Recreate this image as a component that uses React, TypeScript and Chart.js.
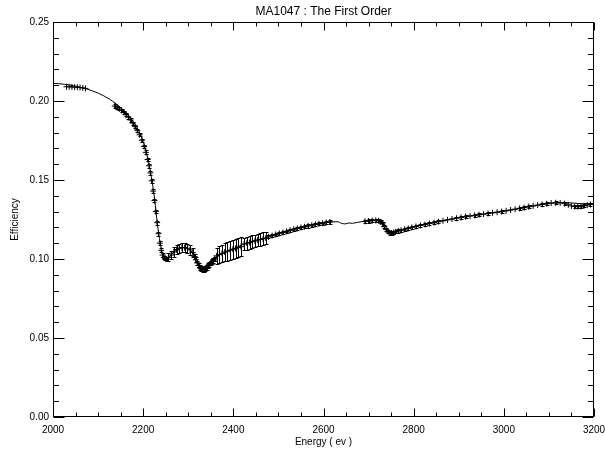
import React, { useEffect, useRef } from "react";
import { Chart, registerables } from "chart.js";

Chart.register(...registerables);

const chartTitle = "MA1047 : The First Order";
const xAxisLabel = "Energy ( ev )";
const yAxisLabel = "Efficiency";

const X_MIN = 2000;
const X_MAX = 3200;
const Y_MIN = 0;
const Y_MAX = 0.25;

const xTickValues = [2000, 2200, 2400, 2600, 2800, 3000, 3200];
const yTickValues = [0, 0.05, 0.1, 0.15, 0.2, 0.25];

// Fitted efficiency curve (solid line)
const modelEnergy = [
  2000, 2025, 2050, 2075, 2100, 2125, 2150, 2175, 2190, 2200, 2210, 2218, 2224,
  2230, 2236, 2242, 2248, 2254, 2262, 2272, 2284, 2296, 2306, 2314, 2322, 2330,
  2338, 2350, 2362, 2380, 2400, 2420, 2440, 2460, 2480, 2500, 2525, 2550, 2575,
  2600, 2618, 2630, 2640, 2648, 2656, 2664, 2675, 2690, 2710, 2722, 2730, 2738,
  2746, 2754, 2765, 2780, 2800, 2850, 2900, 2950, 3000, 3050, 3100, 3125, 3150,
  3175, 3200,
];
const modelEfficiency = [
  0.2112, 0.2106, 0.2094, 0.2076, 0.205, 0.2012, 0.1958, 0.188, 0.1812, 0.1745,
  0.164, 0.152, 0.141, 0.126, 0.113, 0.1045, 0.1008, 0.1005, 0.1025, 0.1055,
  0.1072, 0.107, 0.1052, 0.101, 0.0962, 0.0936, 0.0938, 0.0972, 0.101, 0.104,
  0.1064, 0.109, 0.111, 0.1125, 0.1142, 0.116, 0.1181, 0.1199, 0.1214, 0.1226,
  0.1235, 0.1236, 0.1226, 0.1222, 0.1228, 0.1226, 0.1232, 0.1238, 0.1243,
  0.1242, 0.1226, 0.119, 0.1166, 0.1165, 0.1176, 0.1188, 0.1203, 0.1233,
  0.1261, 0.1282, 0.1303, 0.1328, 0.1352, 0.1357, 0.1355, 0.135, 0.135,
];

// Measured efficiencies with their uncertainties
const measEnergy = [
  2030, 2036, 2042, 2048, 2054, 2060, 2066, 2072,
  2137, 2142, 2147, 2152, 2157, 2162, 2167, 2172, 2177, 2182, 2187, 2192, 2197,
  2202, 2206, 2210, 2213, 2216, 2219, 2222, 2225, 2228, 2231, 2234, 2237, 2240,
  2243, 2246, 2249, 2252,
  2256, 2262, 2268, 2274, 2280, 2286, 2292, 2298, 2304, 2310,
  2314, 2317, 2320, 2323, 2326, 2329, 2332, 2335, 2338, 2341, 2344, 2347, 2350,
  2353, 2356, 2359,
  2363, 2369, 2375, 2381, 2387, 2393, 2399, 2405, 2411, 2417,
  2424, 2430, 2436, 2442, 2448, 2454, 2460, 2466, 2472,
  2478, 2486, 2494, 2502, 2510, 2518, 2526, 2534, 2542, 2550, 2558, 2566, 2574,
  2582, 2590, 2598, 2606, 2614,
  2692, 2700, 2708, 2716, 2722, 2727, 2731, 2735, 2739, 2743, 2747, 2751, 2755,
  2760, 2766, 2772, 2780, 2788, 2796,
  2805, 2815, 2825, 2835, 2845, 2855, 2865, 2875, 2885, 2895, 2905, 2915, 2925,
  2935, 2945, 2955, 2965, 2975, 2985, 2995, 3005, 3015, 3025, 3035, 3045, 3055,
  3065, 3075, 3085, 3095, 3105, 3115, 3125, 3135, 3143, 3150, 3157, 3164, 3171,
  3178, 3185, 3192, 3199,
];
const measEfficiency = [
  0.209, 0.209, 0.2089, 0.2088, 0.2087, 0.2085, 0.2083, 0.208,
  0.1968, 0.196, 0.195, 0.194, 0.1928, 0.1914, 0.1898, 0.188, 0.186, 0.1838,
  0.1814, 0.1786, 0.1752, 0.1712, 0.1675, 0.163, 0.159, 0.1545, 0.1495, 0.143,
  0.137, 0.13, 0.123, 0.116, 0.11, 0.1055, 0.1025, 0.101, 0.1003, 0.1,
  0.101, 0.1025, 0.1045, 0.106, 0.1068, 0.1072, 0.1072, 0.1068, 0.1058, 0.104,
  0.1015, 0.0995, 0.0975, 0.0958, 0.0946, 0.0938, 0.0934, 0.0935, 0.094, 0.0948,
  0.0957, 0.0966, 0.0975, 0.0984, 0.0992, 0.1,
  0.102, 0.1028, 0.1036, 0.1044, 0.105, 0.1056, 0.1062, 0.1067, 0.1072, 0.1078,
  0.1095, 0.11, 0.1105, 0.111, 0.1115, 0.112, 0.1124, 0.1128, 0.1132,
  0.114, 0.1148, 0.1155, 0.1162, 0.1168, 0.1175, 0.1182, 0.1188, 0.1194, 0.1199,
  0.1204, 0.1209, 0.1214, 0.1219, 0.1223, 0.1227, 0.1231, 0.1234,
  0.1238, 0.1241, 0.1243, 0.1244, 0.1242, 0.1235, 0.1222, 0.1205, 0.1186,
  0.1172, 0.1165, 0.1164, 0.1167, 0.1172, 0.1177, 0.1182, 0.1188, 0.1194, 0.12,
  0.1206, 0.1212, 0.1218, 0.1224, 0.123, 0.1236, 0.1242, 0.1248, 0.1253, 0.1258,
  0.1263, 0.1268, 0.1272, 0.1276, 0.128, 0.1284, 0.1288, 0.1292, 0.1296, 0.13,
  0.1305, 0.131, 0.1315, 0.132, 0.1325, 0.1331, 0.1336, 0.1341, 0.1346, 0.135,
  0.1354, 0.1356, 0.1355, 0.135, 0.1343, 0.1336, 0.1332, 0.1331, 0.1333,
  0.1337, 0.1341, 0.1345, 0.1348,
];
const measError = [
  0.0005, 0.0005, 0.0005, 0.0005, 0.0005, 0.0005, 0.0005, 0.0005,
  0.001, 0.001, 0.001, 0.001, 0.001, 0.001, 0.001, 0.001, 0.001, 0.001, 0.001,
  0.001, 0.001, 0.0012, 0.0012, 0.0012, 0.0012, 0.0012, 0.0012, 0.0012, 0.0012,
  0.0012, 0.0012, 0.0012, 0.0012, 0.0012, 0.0012, 0.0012, 0.0012, 0.0012,
  0.0025, 0.0028, 0.003, 0.003, 0.003, 0.003, 0.003, 0.003, 0.003, 0.003,
  0.0015, 0.0015, 0.0015, 0.0015, 0.0015, 0.0015, 0.0015, 0.0015, 0.0015,
  0.0015, 0.0015, 0.0015, 0.0015, 0.0015, 0.0015, 0.0015,
  0.005, 0.0052, 0.0055, 0.0057, 0.006, 0.006, 0.006, 0.006, 0.006, 0.006,
  0.004, 0.004, 0.004, 0.004, 0.004, 0.004, 0.004, 0.004, 0.004,
  0.001, 0.001, 0.001, 0.001, 0.001, 0.001, 0.001, 0.001, 0.001, 0.001, 0.001,
  0.001, 0.001, 0.001, 0.001, 0.001, 0.001, 0.001,
  0.001, 0.001, 0.001, 0.001, 0.001, 0.001, 0.001, 0.001, 0.001, 0.001, 0.001,
  0.001, 0.001, 0.001, 0.001, 0.001, 0.001, 0.001, 0.001,
  0.0008, 0.0008, 0.0008, 0.0008, 0.0008, 0.0008, 0.0008, 0.0008, 0.0008,
  0.0008, 0.0008, 0.0008, 0.0008, 0.0008, 0.0008, 0.0008, 0.0008, 0.0008,
  0.0008, 0.0008, 0.0008, 0.0008, 0.0008, 0.0008, 0.0008, 0.0008, 0.0008,
  0.0008, 0.0008, 0.0008, 0.0008, 0.0008, 0.0008, 0.0008, 0.0008, 0.0008,
  0.0008, 0.0008, 0.0008, 0.0008, 0.0008, 0.0008, 0.0008,
];

const FONT = "'Liberation Sans', Arial, sans-serif";

// Vertical error bars with short caps for the measured points
const errorBarPlugin = {
  id: "errorBars",
  afterDatasetsDraw(chart: any) {
    const { ctx, scales } = chart;
    const xs = scales.x;
    const ys = scales.y;
    ctx.save();
    ctx.strokeStyle = "#000";
    ctx.lineWidth = 1;
    ctx.beginPath();
    for (let i = 0; i < measEnergy.length; i++) {
      const px = Math.round(xs.getPixelForValue(measEnergy[i])) + 0.5;
      const yLo = Math.round(ys.getPixelForValue(measEfficiency[i] - measError[i])) + 0.5;
      const yHi = Math.round(ys.getPixelForValue(measEfficiency[i] + measError[i])) + 0.5;
      if (yLo - yHi < 3) continue;
      ctx.moveTo(px, yLo);
      ctx.lineTo(px, yHi);
      ctx.moveTo(px - 2, yLo);
      ctx.lineTo(px + 2, yLo);
      ctx.moveTo(px - 2, yHi);
      ctx.lineTo(px + 2, yHi);
    }
    ctx.stroke();
    ctx.restore();
  },
};

// Boxed frame with inward ticks on all four sides, plus the plot title
const framePlugin = {
  id: "boxFrame",
  afterDraw(chart: any) {
    const { ctx, chartArea: a, scales } = chart;
    const xs = scales.x;
    const ys = scales.y;
    const L = Math.round(a.left) + 0.5;
    const R = Math.round(a.right) - 0.5;
    const T = Math.round(a.top) + 0.5;
    const B = Math.round(a.bottom) - 0.5;
    ctx.save();
    ctx.strokeStyle = "#000";
    ctx.lineWidth = 1;
    ctx.strokeRect(L, T, R - L, B - T);
    ctx.beginPath();
    for (let v = X_MIN; v <= X_MAX; v += 50) {
      const len = (v - X_MIN) % 200 === 0 ? 8 : 4;
      const px = Math.round(xs.getPixelForValue(v)) + 0.5;
      ctx.moveTo(px, B);
      ctx.lineTo(px, B - len);
      ctx.moveTo(px, T);
      ctx.lineTo(px, T + len);
    }
    for (let i = 0; i <= 25; i++) {
      const len = i % 5 === 0 ? 11 : 5.5;
      const py = Math.round(ys.getPixelForValue(i / 100)) + 0.5;
      ctx.moveTo(L, py);
      ctx.lineTo(L + len, py);
      ctx.moveTo(R, py);
      ctx.lineTo(R - len, py);
    }
    ctx.stroke();
    ctx.fillStyle = "#000";
    ctx.font = `12px ${FONT}`;
    ctx.textAlign = "center";
    ctx.textBaseline = "middle";
    ctx.fillText(chartTitle, (a.left + a.right) / 2, 12);
    ctx.restore();
  },
};

export default function App() {
  const canvasRef = useRef<HTMLCanvasElement | null>(null);

  useEffect(() => {
    const canvas = canvasRef.current;
    if (!canvas) return;
    const chart = new Chart(canvas, {
      type: "scatter",
      data: {
        datasets: [
          {
            label: "fit",
            data: modelEnergy.map((x, i) => ({ x, y: modelEfficiency[i] })),
            showLine: true,
            borderColor: "#000",
            borderWidth: 1,
            pointRadius: 0,
            cubicInterpolationMode: "monotone",
            fill: false,
          },
          {
            label: "measured",
            data: measEnergy.map((x, i) => ({ x, y: measEfficiency[i] })),
            showLine: false,
            pointStyle: "cross",
            pointRadius: 3,
            borderColor: "#000",
            backgroundColor: "#000",
            borderWidth: 1,
          },
        ],
      },
      options: {
        responsive: false,
        animation: false,
        devicePixelRatio: 1,
        layout: {
          autoPadding: false,
          padding: { left: 0, top: 22, right: 11, bottom: 0 },
        },
        plugins: {
          legend: { display: false },
          title: { display: false },
          tooltip: { enabled: false },
        },
        scales: {
          x: {
            type: "linear",
            min: X_MIN,
            max: X_MAX,
            afterBuildTicks: (scale: any) => {
              scale.ticks = xTickValues.map((value) => ({ value }));
            },
            afterFit: (scale: any) => {
              scale.height = 36;
              scale.paddingLeft = 0;
              scale.paddingRight = 0;
            },
            grid: { display: false, drawTicks: false },
            border: { display: false },
            ticks: {
              color: "#000",
              padding: 7,
              maxRotation: 0,
              font: { family: FONT, size: 10 },
              callback: (v: any) => String(v),
            },
            title: {
              display: true,
              text: xAxisLabel,
              color: "#000",
              font: { family: FONT, size: 10 },
              padding: { top: 0, bottom: 5 },
            },
          },
          y: {
            type: "linear",
            min: Y_MIN,
            max: Y_MAX,
            afterBuildTicks: (scale: any) => {
              scale.ticks = yTickValues.map((value) => ({ value }));
            },
            afterFit: (scale: any) => {
              scale.width = 53;
              scale.paddingTop = 0;
              scale.paddingBottom = 0;
            },
            grid: { display: false, drawTicks: false },
            border: { display: false },
            ticks: {
              color: "#000",
              padding: 4,
              font: { family: FONT, size: 10 },
              callback: (v: any) => Number(v).toFixed(2),
            },
            title: {
              display: true,
              text: yAxisLabel,
              color: "#000",
              font: { family: FONT, size: 10 },
              padding: { top: 9, bottom: 0 },
            },
          },
        },
      },
      plugins: [errorBarPlugin, framePlugin],
    } as any);
    return () => chart.destroy();
  }, []);

  return (
    <div style={{ position: "absolute", left: 0, top: 0, width: 605, height: 453, background: "#fff" }}>
      <canvas ref={canvasRef} width={605} height={453} style={{ display: "block" }} />
    </div>
  );
}
